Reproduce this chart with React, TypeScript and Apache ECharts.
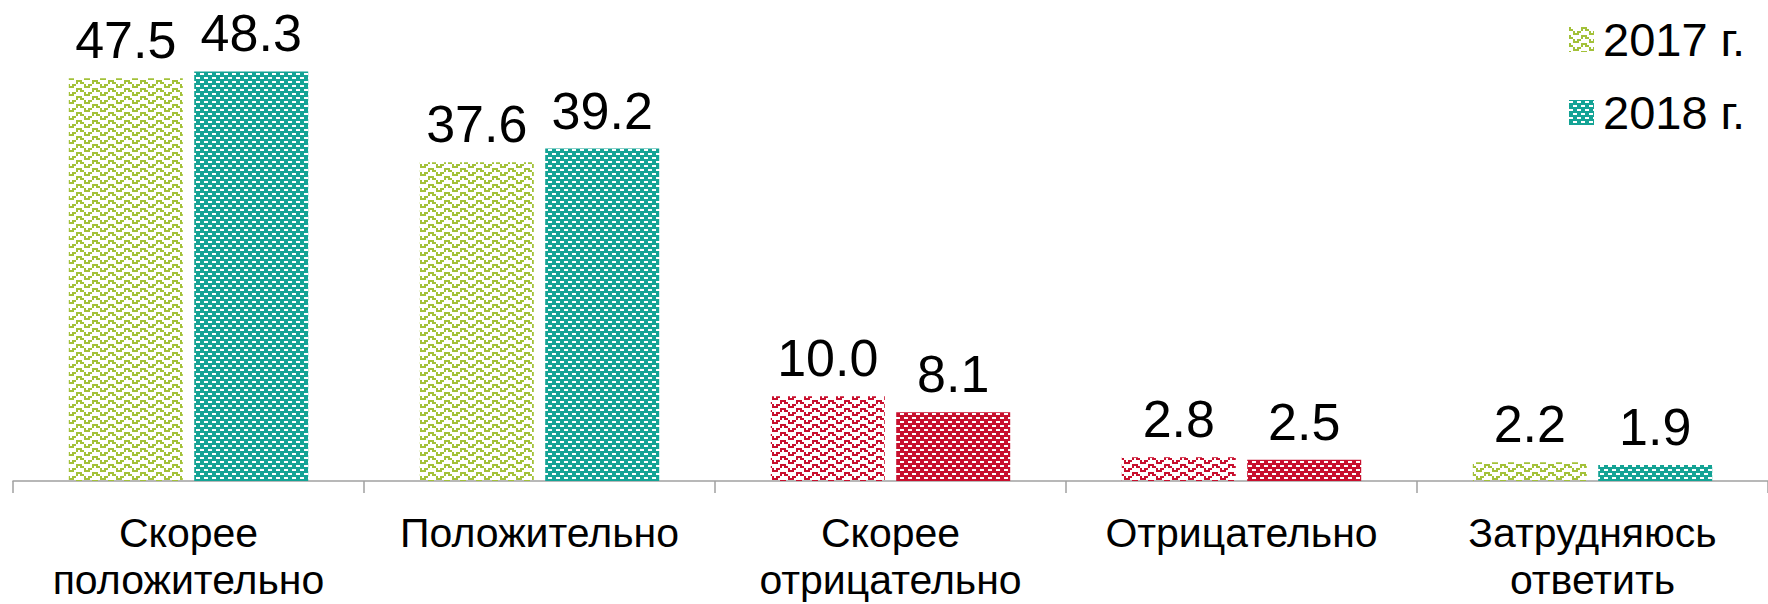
import React, { useEffect, useRef } from "react";
import * as echarts from "echarts";

const categories = [
  "Скорее\nположительно",
  "Положительно",
  "Скорее\nотрицательно",
  "Отрицательно",
  "Затрудняюсь\nответить",
];
const seriesNames = ["2017 г.", "2018 г."];
const values2017 = [47.5, 37.6, 10.0, 2.8, 2.2];
const values2018 = [48.3, 39.2, 8.1, 2.5, 1.9];
// which categories are drawn in the "negative" (red) palette
const negativeCategory = [false, false, true, true, false];

const GREEN = "#a3c139";
const TEAL = "#14a395";
const RED = "#c8102e";
const FONT = '"Liberation Sans", Arial, sans-serif';

function zigzagTile(color: string) {
  const cell = 2;
  const size = 8 * cell;
  const c = document.createElement("canvas");
  c.width = size;
  c.height = size;
  const ctx = c.getContext("2d")!;
  ctx.fillStyle = color;
  const tri = [0, 1, 2, 3, 3, 2, 1, 0];
  for (let cy = 0; cy < 8; cy++) {
    for (let cx = 0; cx < 8; cx++) {
      const r = cy % 4;
      if (r === tri[cx] || (r === tri[(cx + 1) % 8] && cx % 2 === 0)) {
        ctx.fillRect(cx * cell, cy * cell, cell, cell);
      }
    }
  }
  return { image: c, repeat: "repeat", imageWidth: size, imageHeight: size } as any;
}

function brickTile(color: string) {
  const c = document.createElement("canvas");
  c.width = 8;
  c.height = 8;
  const ctx = c.getContext("2d")!;
  ctx.fillStyle = color;
  ctx.fillRect(0, 0, 8, 8);
  ctx.fillStyle = "#ffffff";
  ctx.fillRect(0, 1, 4, 2);
  ctx.fillRect(4, 5, 4, 2);
  return { image: c, repeat: "repeat", imageWidth: 8, imageHeight: 8 } as any;
}

export default function App() {
  const ref = useRef<HTMLDivElement>(null);
  useEffect(() => {
    if (!ref.current) return;
    document.body.style.margin = "0";
    const chart = echarts.init(ref.current, null, { renderer: "svg" });
    const pat2017 = zigzagTile(GREEN);
    const pat2018 = brickTile(TEAL);
    const pat2017neg = zigzagTile(RED);
    const pat2018neg = brickTile(RED);

    const label = {
      show: true,
      position: "top",
      distance: 12,
      fontSize: 52,
      fontFamily: FONT,
      color: "#000",
      formatter: (p: any) => Number(p.value).toFixed(1),
    };

    chart.setOption({
      animation: false,
      backgroundColor: "#ffffff",
      grid: { left: 13, right: -6, top: 57, bottom: 123, containLabel: false },
      legend: {
        orient: "vertical",
        left: 1569,
        top: 16,
        padding: 0,
        itemWidth: 25,
        itemHeight: 25,
        itemGap: 26,
        icon: "rect",
        data: seriesNames,
        textStyle: { fontSize: 47, lineHeight: 47, fontFamily: FONT, color: "#000", padding: [0, 0, 0, 4] },
      },
      xAxis: {
        type: "category",
        data: categories,
        axisLine: { lineStyle: { color: "#a0a0a0", width: 1.5 } },
        axisTick: { show: true, length: 12, lineStyle: { color: "#a0a0a0", width: 1.5 } },
        axisLabel: {
          interval: 0,
          margin: 28,
          fontSize: 41,
          lineHeight: 47,
          fontFamily: FONT,
          color: "#000",
        },
      },
      yAxis: { type: "value", min: 0, max: 50, show: false, splitLine: { show: false } },
      series: [
        {
          name: seriesNames[0],
          type: "bar",
          barWidth: 114,
          barGap: "10%",
          itemStyle: { color: pat2017 },
          label,
          data: values2017.map((v, i) => ({
            value: v,
            itemStyle: { color: negativeCategory[i] ? pat2017neg : pat2017 },
          })),
        },
        {
          name: seriesNames[1],
          type: "bar",
          barWidth: 114,
          barGap: "10%",
          itemStyle: { color: pat2018 },
          label,
          data: values2018.map((v, i) => ({
            value: v,
            itemStyle: { color: negativeCategory[i] ? pat2018neg : pat2018 },
          })),
        },
      ],
    });
    return () => chart.dispose();
  }, []);
  return (
    <div
      ref={ref}
      style={{ position: "absolute", left: 0, top: 0, width: 1768, height: 604, overflow: "hidden" }}
    />
  );
}
